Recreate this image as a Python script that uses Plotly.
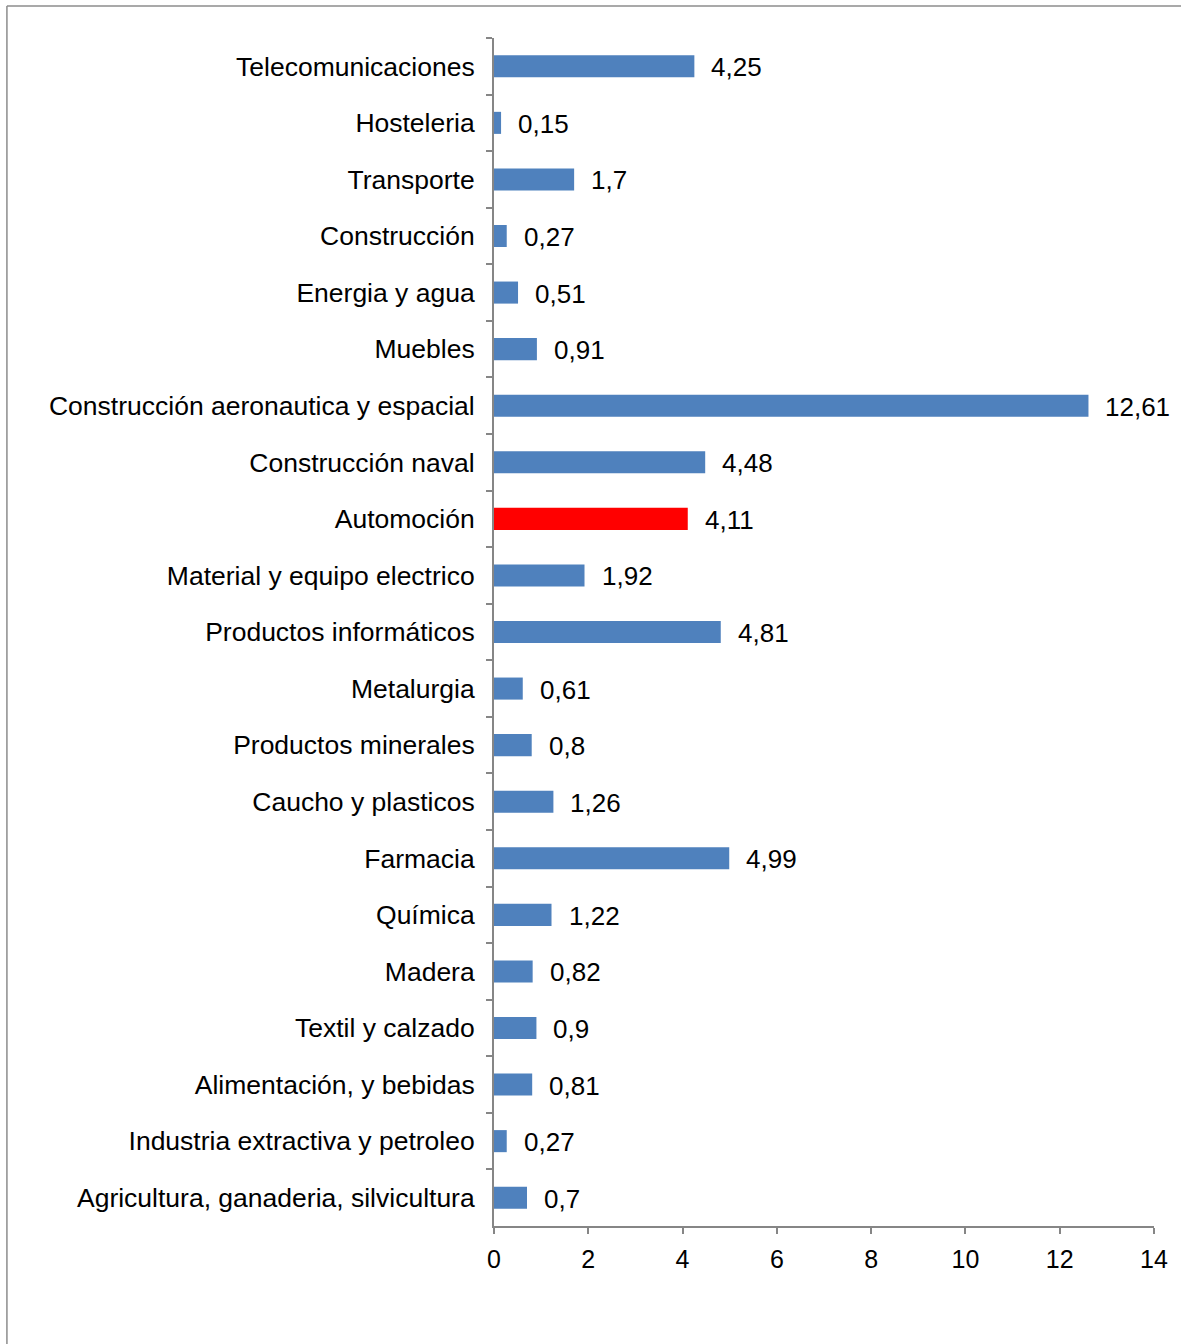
import plotly.graph_objects as go

# Sectors listed top to bottom as shown on the chart
sectors = [
    "Telecomunicaciones",
    "Hosteleria",
    "Transporte",
    "Construcción",
    "Energia y agua",
    "Muebles",
    "Construcción aeronautica y espacial",
    "Construcción naval",
    "Automoción",
    "Material y equipo electrico",
    "Productos informáticos",
    "Metalurgia",
    "Productos minerales",
    "Caucho y plasticos",
    "Farmacia",
    "Química",
    "Madera",
    "Textil y calzado",
    "Alimentación, y bebidas",
    "Industria extractiva y petroleo",
    "Agricultura, ganaderia, silvicultura",
]
values = [4.25, 0.15, 1.7, 0.27, 0.51, 0.91, 12.61, 4.48, 4.11, 1.92, 4.81,
          0.61, 0.8, 1.26, 4.99, 1.22, 0.82, 0.9, 0.81, 0.27, 0.7]
x_ticks = [0, 2, 4, 6, 8, 10, 12, 14]

highlight = "Automoción"
colors = ["#FF0000" if s == highlight else "#4F81BD" for s in sectors]

FONT = "Liberation Sans, Arial, sans-serif"
AXIS_COLOR = "#868686"

fig = go.Figure(
    go.Bar(
        x=values,
        y=sectors,
        orientation="h",
        marker=dict(color=colors, line=dict(width=0)),
        hoverinfo="skip",
    )
)

# Value labels to the right of each bar, decimal comma
for s, v in zip(sectors, values):
    fig.add_annotation(
        x=v, y=s, xref="x", yref="y",
        text=f"{v:g}".replace(".", ","),
        showarrow=False, xanchor="left", xshift=15, yshift=-1,
        font=dict(family=FONT, size=26, color="#000000"),
    )

# Outer chart frame (left and top edges)
fig.add_shape(type="line", xref="paper", yref="paper",
              x0=-0.738, x1=-0.738, y0=-0.2, y1=1.027,
              line=dict(color="#8C8C8C", width=1.5))
fig.add_shape(type="line", xref="paper", yref="paper",
              x0=-0.738, x1=1.1, y0=1.027, y1=1.027,
              line=dict(color="#8C8C8C", width=1.5))

fig.update_layout(
    width=1181,
    height=1344,
    margin=dict(l=494, r=27, t=38, b=118),
    paper_bgcolor="white",
    plot_bgcolor="white",
    bargap=0.61,
    showlegend=False,
    font=dict(family=FONT, size=26, color="#000000"),
    xaxis=dict(
        range=[0, 14],
        tickvals=x_ticks,
        ticktext=[str(t) for t in x_ticks],
        showgrid=False,
        zeroline=False,
        showline=True,
        linecolor=AXIS_COLOR,
        linewidth=2,
        ticks="outside",
        ticklen=6,
        tickwidth=2,
        tickcolor=AXIS_COLOR,
        tickfont=dict(family=FONT, size=25),
        ticklabelstandoff=4,
    ),
    yaxis=dict(
        categoryorder="array",
        categoryarray=sectors,
        autorange="reversed",
        showgrid=False,
        zeroline=False,
        showline=True,
        linecolor=AXIS_COLOR,
        linewidth=2,
        ticks="outside",
        tickson="boundaries",
        ticklen=6,
        tickwidth=2,
        tickcolor=AXIS_COLOR,
        tickfont=dict(family=FONT, size=26.5),
        ticklabelstandoff=12,
    ),
)

fig.write_html("out.html")
